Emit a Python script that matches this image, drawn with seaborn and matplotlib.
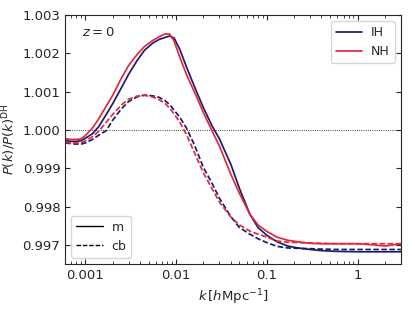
import numpy as np
import pandas as pd
import seaborn as sns
import matplotlib
matplotlib.use("Agg")
import matplotlib.pyplot as plt
from matplotlib.lines import Line2D

# wavenumbers [h/Mpc]
k = [0.0006, 0.0007, 0.0008, 0.0009, 0.001, 0.0012, 0.0014, 0.0017, 0.002,
     0.0025, 0.003, 0.0037, 0.0045, 0.0055, 0.0065, 0.0075, 0.0085, 0.0095,
     0.011, 0.013, 0.016, 0.02, 0.025, 0.03, 0.04, 0.05, 0.065, 0.08, 0.1,
     0.13, 0.17, 0.22, 0.3, 0.4, 0.6, 1.0, 1.5, 2.0, 3.0]

# ratio P(k)/P(k)^DH, total matter
ih_m = [0.99972, 0.99970, 0.99970, 0.99972, 0.99978, 0.99990, 1.00008, 1.00040,
        1.00068, 1.00110, 1.00145, 1.00180, 1.00208, 1.00226, 1.00236, 1.00241,
        1.00245, 1.00240, 1.00210, 1.00165, 1.00112, 1.00058, 1.00010, 0.99977,
        0.99911, 0.99847, 0.99780, 0.99745, 0.99725, 0.99708, 0.99697, 0.99692,
        0.99688, 0.99685, 0.99683, 0.99682, 0.99682, 0.99682, 0.99682]
nh_m = [0.99977, 0.99975, 0.99975, 0.99977, 0.99985, 1.00005, 1.00028, 1.00062,
        1.00090, 1.00135, 1.00168, 1.00196, 1.00218, 1.00233, 1.00243, 1.00250,
        1.00250, 1.00232, 1.00190, 1.00145, 1.00098, 1.00045, 0.99997, 0.99958,
        0.99885, 0.99834, 0.99780, 0.99752, 0.99735, 0.99720, 0.99712, 0.99708,
        0.99704, 0.99703, 0.99703, 0.99703, 0.99700, 0.99697, 0.99703]

# cold dark matter + baryons
ih_cb = [0.99966, 0.99964, 0.99963, 0.99963, 0.99966, 0.99975, 0.99986, 0.99998,
         1.00025, 1.00055, 1.00074, 1.00086, 1.00091, 1.00089, 1.00085, 1.00077,
         1.00066, 1.00052, 1.00033, 1.00005, 0.99960, 0.99902, 0.99860, 0.99822,
         0.99774, 0.99745, 0.99728, 0.99716, 0.99706, 0.99696, 0.99692, 0.99691,
         0.99690, 0.99689, 0.99688, 0.99688, 0.99688, 0.99688, 0.99688]
nh_cb = [0.99968, 0.99966, 0.99966, 0.99967, 0.99971, 0.99982, 0.99996, 1.00020,
         1.00040, 1.00065, 1.00080, 1.00088, 1.00090, 1.00086, 1.00079, 1.00070,
         1.00057, 1.00042, 1.00020, 0.99988, 0.99940, 0.99888, 0.99846, 0.99812,
         0.99773, 0.99752, 0.99736, 0.99728, 0.99720, 0.99710, 0.99707, 0.99706,
         0.99705, 0.99704, 0.99703, 0.99703, 0.99703, 0.99703, 0.99703]

hierarchies = ["IH", "NH"]
components = ["m", "cb"]
colors = {"IH": "#1c1c6b", "NH": "#e2283b"}

series = {("IH", "m"): ih_m, ("NH", "m"): nh_m,
          ("IH", "cb"): ih_cb, ("NH", "cb"): nh_cb}
rows = []
for (h, c), vals in series.items():
    for kk, v in zip(k, vals):
        rows.append({"k": kk, "ratio": v, "hierarchy": h, "component": c})
df = pd.DataFrame(rows)

sns.set_style("ticks", {"xtick.direction": "in", "ytick.direction": "in"})
plt.rcParams["font.family"] = ["DejaVu Sans"]
plt.rcParams["mathtext.fontset"] = "dejavusans"

fs = 9
fig = plt.figure(figsize=(4.15, 3.11), dpi=100)
ax = fig.add_axes([0.157, 0.151, 0.809, 0.801])

sns.lineplot(data=df, x="k", y="ratio", hue="hierarchy", style="component",
             hue_order=hierarchies, style_order=components, palette=colors,
             dashes={"m": "", "cb": (3.2, 1.4)}, linewidth=1.25,
             estimator=None, sort=True, legend=False, ax=ax)

ax.axhline(1.0, color="black", ls=":", lw=0.6, zorder=0)

ax.set_xscale("log")
ax.set_xlim(6e-4, 3.0)
ax.set_ylim(0.9965, 1.003)
ax.set_xticks([0.001, 0.01, 0.1, 1])
ax.set_xticklabels(["0.001", "0.01", "0.1", "1"])
ax.set_yticks([0.997, 0.998, 0.999, 1.000, 1.001, 1.002, 1.003])
ax.set_yticklabels(["0.997", "0.998", "0.999", "1.000", "1.001", "1.002", "1.003"])
ax.tick_params(which="both", direction="in", top=True, right=True, labelsize=fs + 0.5)
ax.tick_params(which="major", length=3.5)
ax.tick_params(which="minor", length=2)

ax.set_xlabel(r"$k\,[h{\rm Mpc}^{-1}]$", fontsize=fs + 0.5)
ax.set_ylabel(r"$P(k)/P(k)^{\rm DH}$", fontsize=fs + 0.5, labelpad=3)
ax.text(0.05, 0.955, r"$z=0$", transform=ax.transAxes, fontsize=fs + 0.5, va="top")

h_handles = [Line2D([], [], color=colors[h], lw=1.25) for h in hierarchies]
leg1 = ax.legend(h_handles, hierarchies, loc="upper right", fontsize=fs,
                 handlelength=2.1, handletextpad=0.7)
ax.add_artist(leg1)
c_handles = [Line2D([], [], color="black", lw=1.0, ls="-"),
             Line2D([], [], color="black", lw=1.0, ls=(0, (3.2, 1.4)))]
ax.legend(c_handles, components, loc="lower left", fontsize=fs,
          handlelength=2.1, handletextpad=0.7)

fig.savefig("out.png", dpi=100)
